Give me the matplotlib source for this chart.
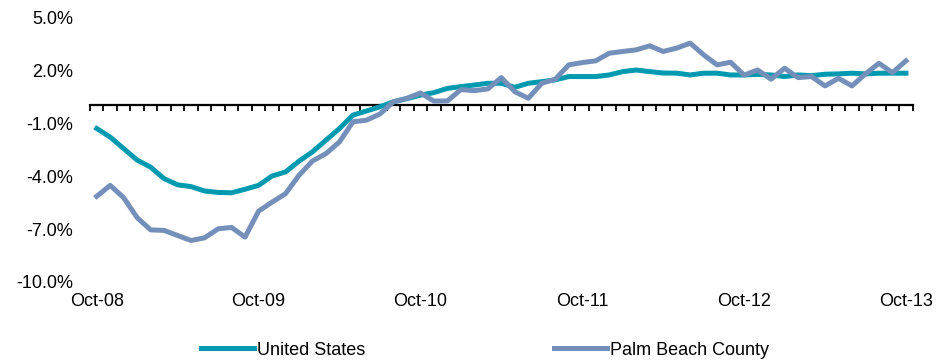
import numpy as np
import matplotlib
matplotlib.use("Agg")
import matplotlib.pyplot as plt
import matplotlib.transforms as mtransforms

plt.rcParams['font.family'] = ['Liberation Sans', 'DejaVu Sans']

# monthly year-over-year change, Oct-08 .. Oct-13
us = [-1.31, -1.80, -2.45, -3.10, -3.50, -4.15, -4.50, -4.60, -4.85, -4.93,
      -4.95, -4.75, -4.53, -4.00, -3.77, -3.16, -2.63, -1.97, -1.31, -0.55,
      -0.32, -0.08, 0.20, 0.38, 0.58, 0.72, 0.96, 1.06, 1.15, 1.25,
      1.25, 1.02, 1.25, 1.34, 1.44, 1.63, 1.63, 1.63, 1.72, 1.91,
      2.00, 1.91, 1.83, 1.82, 1.72, 1.82, 1.82, 1.72, 1.72, 1.75,
      1.72, 1.63, 1.72, 1.68, 1.76, 1.78, 1.82, 1.78, 1.82, 1.82, 1.82]
pbc = [-5.15, -4.53, -5.23, -6.36, -7.05, -7.08, -7.37, -7.65, -7.50, -6.99,
       -6.91, -7.46, -5.99, -5.48, -5.00, -3.96, -3.15, -2.73, -2.07, -0.93,
       -0.84, -0.49, 0.20, 0.40, 0.70, 0.24, 0.25, 0.89, 0.83, 0.93,
       1.57, 0.77, 0.40, 1.25, 1.48, 2.29, 2.42, 2.52, 2.95, 3.05,
       3.14, 3.37, 3.05, 3.24, 3.52, 2.86, 2.29, 2.44, 1.71, 2.00,
       1.48, 2.10, 1.57, 1.63, 1.10, 1.53, 1.10, 1.78, 2.38, 1.85, 2.52]
month_labels = ['Oct-08', 'Oct-09', 'Oct-10', 'Oct-11', 'Oct-12', 'Oct-13']
series_names = ['United States', 'Palm Beach County']
yticks = [5, 2, -1, -4, -7, -10]

x = np.arange(len(us))

fig = plt.figure(figsize=(9.51, 3.62), dpi=100)
ax = fig.add_axes([0.0946, 0.221, 0.8651, 0.732])

ax.plot(x, us, color='#009AB0', lw=3.6, label=series_names[0], zorder=3)
ax.plot(x, pbc, color='#7490BA', lw=3.6, label=series_names[1], zorder=4)

ax.set_xlim(-0.5, len(us) - 0.5)
ax.set_ylim(-10, 5)

# horizontal axis sits at zero, ticks between months
ax.spines['bottom'].set_position(('data', 0))
ax.spines['bottom'].set_linewidth(1.6)
ax.spines['bottom'].set_zorder(2)
for s in ['left', 'right', 'top']:
    ax.spines[s].set_visible(False)
ax.set_xticks(np.arange(-0.5, len(us), 1.0))
ax.tick_params(axis='x', direction='out', length=4, width=1.3, labelbottom=False)

ax.set_yticks(yticks)
ax.set_yticklabels([f'{v:.1f}%' for v in yticks])
ax.tick_params(axis='y', length=0, pad=12, labelsize=13)

# category labels along the bottom
trans = mtransforms.blended_transform_factory(ax.transData, ax.transAxes)
for k, lab in enumerate(month_labels):
    ax.text(k * 12, -0.075, lab, transform=trans, ha='center', va='center',
            fontsize=13)

fig.legend(loc='center', bbox_to_anchor=(0.51, 0.033), ncol=2, frameon=False,
           fontsize=13, handlelength=2.95, handletextpad=0.2, columnspacing=10.4)

fig.savefig('out.png', dpi=100)
